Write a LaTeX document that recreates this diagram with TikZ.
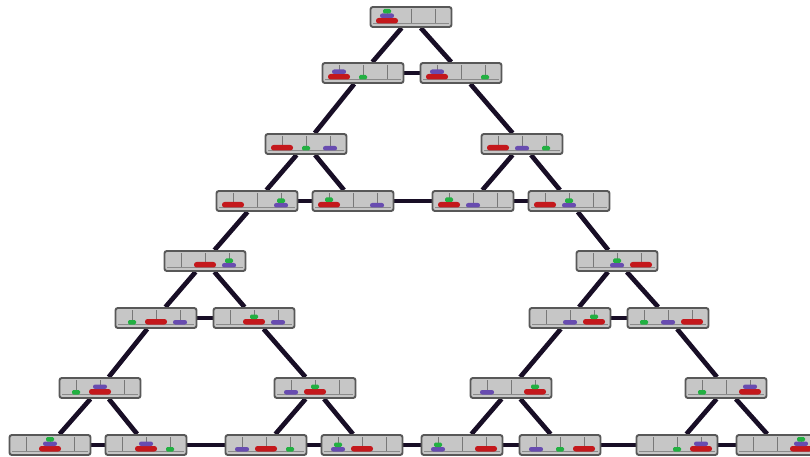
\documentclass[tikz,border=0pt]{standalone}
\usetikzlibrary{backgrounds}

\definecolor{boxfill}{RGB}{198,198,198}
\definecolor{boxedge}{RGB}{88,88,88}
\definecolor{pegcol}{RGB}{120,120,120}
\definecolor{linkcol}{RGB}{24,14,38}
\definecolor{reddisc}{RGB}{196,24,28}
\definecolor{bluedisc}{RGB}{104,76,176}
\definecolor{greendisc}{RGB}{34,176,66}

% discs of one state: #1 node, #2 red peg, #3 blue peg, #4 green peg
\newcommand{\hanoidiscs}[4]{%
  \begin{scope}[shift={(#1.center)}]
    \draw[hanoipeg] (-24,-8) -- (-24,6.5) (0,-8) -- (0,6.5) (24,-8) -- (24,6.5);
    \draw[hanoibase] (-38,6.5) -- (38,6.5);
    \pgfmathsetmacro\by{6.5-5.5*(#3==#2)}
    \pgfmathsetmacro\gy{6.5-5.5*(#4==#2)-4.5*(#4==#3)}
    \fill[reddisc, rounded corners=2.2pt] ({(#2-2)*24-11},6.5) rectangle ++(22,-5.5);
    \fill[bluedisc, rounded corners=1.8pt] ({(#3-2)*24-7},\by) rectangle ++(14,-4.5);
    \fill[greendisc, rounded corners=1.2pt] ({(#4-2)*24-4},\gy) rectangle ++(8,-4.5);
  \end{scope}}

\begin{document}
\begin{tikzpicture}[x=0.03cm, y=-0.03cm,
    hanoibox/.style={draw=boxedge, fill=boxfill, line width=1.6pt, rounded corners=2pt,
      minimum width=2.43cm, minimum height=0.6cm, inner sep=0pt},
    hanoipeg/.style={pegcol, line width=0.6pt},
    hanoibase/.style={boxedge!70, line width=0.6pt},
    link/.style={linkcol, line width=4pt}]
    \useasboundingbox (0,0) rectangle (810,457);

    % States (pegs of red, blue, green disc)
    \foreach \r/\b/\g/\x/\y in {1/1/1/411/17,
        1/1/2/363/73, 1/1/3/461/73,
        1/3/2/306/144, 1/2/3/522/144,
        1/3/3/257/201, 1/3/1/353/201, 1/2/1/473/201, 1/2/2/569/201,
        2/3/3/205/261, 3/2/2/617/261,
        2/3/1/156/318, 2/3/2/254/318, 3/2/3/570/318, 3/2/1/668/318,
        2/2/1/100/388, 2/1/2/315/388, 3/1/3/511/388, 3/3/1/726/388,
        2/2/2/50/445, 2/2/3/146/445, 2/1/3/266/445, 2/1/1/362/445,
        3/1/1/462/445, 3/1/2/560/445, 3/3/2/677/445, 3/3/3/777/445}{
      \node[hanoibox] (s\r\b\g) at (\x,\y) {};
      \hanoidiscs{s\r\b\g}{\r}{\b}{\g}
    }

    % Moves
    \begin{pgfonlayer}{background}
    \foreach \a/\b in {s111/s112, s111/s113, s112/s113,
        s112/s132, s113/s123,
        s132/s133, s132/s131, s133/s131,
        s123/s121, s123/s122, s121/s122, s131/s121,
        s133/s233, s122/s322,
        s233/s231, s233/s232, s231/s232,
        s322/s323, s322/s321, s323/s321,
        s231/s221, s232/s212, s323/s313, s321/s331,
        s221/s222, s221/s223, s222/s223,
        s212/s213, s212/s211, s213/s211,
        s313/s311, s313/s312, s311/s312,
        s331/s332, s331/s333, s332/s333,
        s223/s213, s211/s311, s312/s332}
      \draw[link] (\a) -- (\b);
    \end{pgfonlayer}
\end{tikzpicture}
\end{document}
